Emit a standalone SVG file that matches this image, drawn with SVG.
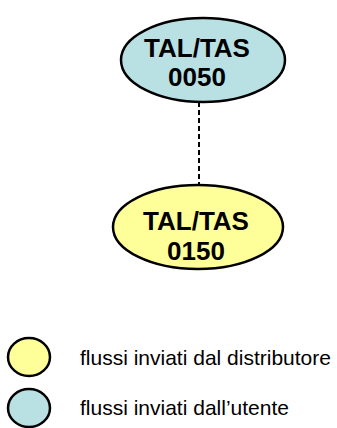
<svg xmlns="http://www.w3.org/2000/svg" width="337" height="428" viewBox="0 0 337 428">
<style>
.n{stroke:#000;stroke-width:2.5}
.blue{fill:#b9e0e3}
.yellow{fill:#ffff99}
.t{font-family:"Liberation Sans",Arial,sans-serif;font-weight:bold;font-size:26px;text-anchor:middle;fill:#000}
.l{font-family:"Liberation Sans",Arial,sans-serif;font-size:21px;fill:#000}
</style>
<rect width="337" height="428" fill="#fff"/>
<g id="connectors">
<line x1="199" y1="102" x2="199" y2="186" stroke="#000" stroke-width="2" stroke-dasharray="5,3"/>
</g>
<g id="node-0050">
<ellipse class="n blue" cx="203" cy="60" rx="82" ry="42"/>
<text class="t" x="197" y="57">TAL/TAS</text>
<text class="t" x="197" y="86">0050</text>
</g>
<g id="node-0150">
<ellipse class="n yellow" cx="198" cy="227" rx="85" ry="42"/>
<text class="t" x="196" y="230">TAL/TAS</text>
<text class="t" x="196" y="260">0150</text>
</g>
<g id="legend">
<ellipse class="n yellow" cx="29" cy="357" rx="21" ry="19"/>
<text class="l" x="80" y="365">flussi inviati dal distributore</text>
<ellipse class="n blue" cx="29" cy="408" rx="21" ry="19"/>
<text class="l" x="80" y="415">flussi inviati dall’utente</text>
</g>
</svg>
